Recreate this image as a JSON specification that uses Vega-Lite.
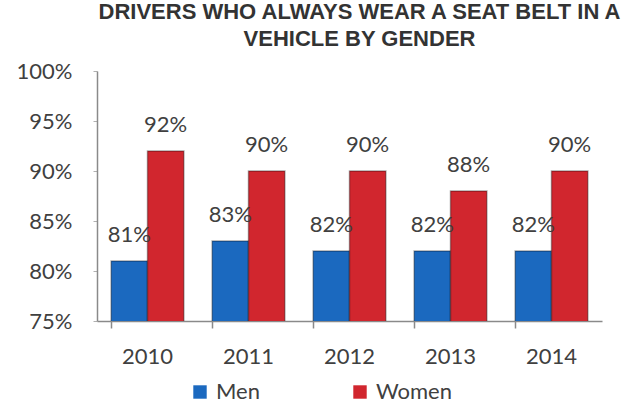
{
  "$schema": "https://vega.github.io/schema/vega-lite/v6.json",
  "autosize": "none",
  "width": 505,
  "height": 250,
  "padding": {"left": 97, "top": 71, "right": 27, "bottom": 83},
  "background": "white",
  "title": {
    "text": ["DRIVERS WHO ALWAYS WEAR A SEAT BELT IN A", "VEHICLE BY GENDER"],
    "font": "Liberation Sans Narrow, Liberation Sans",
    "fontSize": 22,
    "fontWeight": "bold",
    "color": "#333333",
    "anchor": "middle",
    "dx": 10,
    "offset": 9,
    "lineHeight": 27
  },
  "data": {
    "values": [
      {"year": "2010", "gender": "Men", "pct": 0.81},
      {"year": "2010", "gender": "Women", "pct": 0.92},
      {"year": "2011", "gender": "Men", "pct": 0.83},
      {"year": "2011", "gender": "Women", "pct": 0.90},
      {"year": "2012", "gender": "Men", "pct": 0.82},
      {"year": "2012", "gender": "Women", "pct": 0.90},
      {"year": "2013", "gender": "Men", "pct": 0.82},
      {"year": "2013", "gender": "Women", "pct": 0.88},
      {"year": "2014", "gender": "Men", "pct": 0.82},
      {"year": "2014", "gender": "Women", "pct": 0.90}
    ]
  },
  "encoding": {
    "x": {
      "field": "year", "type": "nominal", "title": null,
      "scale": {"paddingInner": 0.28, "paddingOuter": 0.14},
      "axis": {
        "labelAngle": 0, "labelFont": "Lato", "labelFontSize": 22, "labelColor": "#404040",
        "labelPadding": 18, "bandPosition": 0, "tickSize": 7, "tickColor": "#8a8a8a",
        "domainColor": "#8a8a8a", "domainWidth": 1.5, "tickWidth": 1.5
      }
    },
    "xOffset": {"field": "gender", "type": "nominal"},
    "y": {
      "field": "pct", "type": "quantitative", "title": null,
      "scale": {"domain": [0.75, 1.0], "zero": false, "nice": false},
      "axis": {
        "values": [0.75, 0.8, 0.85, 0.9, 0.95, 1.0], "format": ".0%", "grid": false,
        "labelFont": "Lato", "labelFontSize": 22, "labelColor": "#404040",
        "labelPadding": 21, "tickSize": 4, "tickColor": "#b0b0b0",
        "domainColor": "#8a8a8a", "domainWidth": 1.5
      }
    }
  },
  "layer": [
    {
      "mark": {"type": "bar", "clip": true, "stroke": "#00000055", "strokeWidth": 1.5},
      "encoding": {
        "color": {
          "field": "gender", "type": "nominal", "title": null,
          "scale": {"domain": ["Men", "Women"], "range": ["#1b69bf", "#d1262e"]},
          "legend": {
            "orient": "none", "legendX": 92, "legendY": 310, "direction": "horizontal",
            "symbolType": "square", "symbolSize": 180, "symbolStrokeWidth": 0,
            "labelFont": "Lato", "labelFontSize": 22, "labelColor": "#404040",
            "columnPadding": 89, "labelOffset": 5, "padding": 0
          }
        }
      }
    },
    {
      "mark": {"type": "text", "baseline": "alphabetic", "dy": -19, "font": "Lato", "fontSize": 22, "color": "#404040"},
      "encoding": {
        "text": {"field": "pct", "type": "quantitative", "format": ".0%"}
      }
    }
  ],
  "config": {"view": {"stroke": null}}
}
